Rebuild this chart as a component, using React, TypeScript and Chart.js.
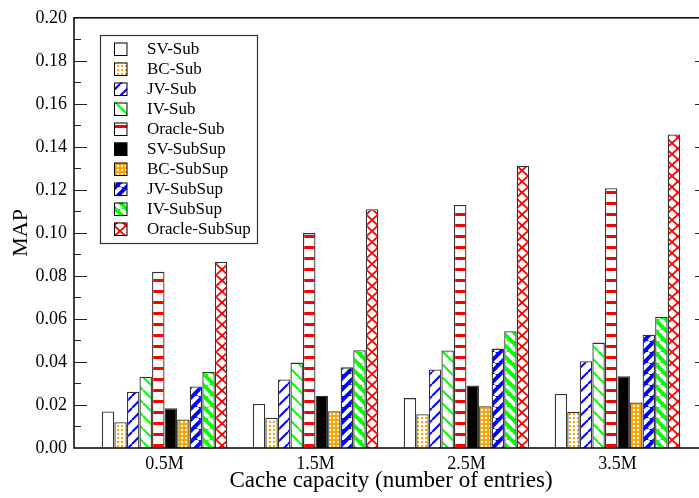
import React, { useEffect, useRef } from "react";
import { Chart, registerables } from "chart.js";

Chart.register(...registerables);

const categories = ["0.5M", "1.5M", "2.5M", "3.5M"];
const seriesLabels = [
  "SV-Sub",
  "BC-Sub",
  "JV-Sub",
  "IV-Sub",
  "Oracle-Sub",
  "SV-SubSup",
  "BC-SubSup",
  "JV-SubSup",
  "IV-SubSup",
  "Oracle-SubSup",
];
const svSub = [0.017, 0.0205, 0.0232, 0.0251];
const bcSub = [0.012, 0.0141, 0.0157, 0.0168];
const jvSub = [0.0262, 0.0319, 0.0365, 0.0403];
const ivSub = [0.0331, 0.0397, 0.0453, 0.049];
const oracleSub = [0.0819, 0.0999, 0.113, 0.1208];
const svSubSup = [0.0185, 0.0243, 0.0291, 0.0333];
const bcSubSup = [0.0133, 0.0171, 0.0194, 0.0212];
const jvSubSup = [0.0286, 0.0375, 0.0462, 0.0527];
const ivSubSup = [0.0354, 0.0455, 0.0543, 0.061];
const oracleSubSup = [0.0865, 0.111, 0.1312, 0.1458];
const seriesValues = [svSub, bcSub, jvSub, ivSub, oracleSub, svSubSup, bcSubSup, jvSubSup, ivSubSup, oracleSubSup];

const yMin = 0;
const yMax = 0.2;
const yStep = 0.02;

const ORANGE = "#FFA500";
const BLUE = "#0000FF";
const GREEN = "#00FF00";
const RED = "#FF0000";
const FONT = "'Liberation Serif', 'DejaVu Serif', serif";

function makePattern(w: number, h: number, draw: (ctx: CanvasRenderingContext2D) => void) {
  const c = document.createElement("canvas");
  c.width = w;
  c.height = h;
  const ctx = c.getContext("2d")!;
  draw(ctx);
  return ctx.createPattern(c, "repeat") as CanvasPattern;
}

function buildFills(): (string | CanvasPattern)[] {
  const dots = (bg: string, fg: string) =>
    makePattern(4, 4, (ctx) => {
      ctx.fillStyle = bg;
      ctx.fillRect(0, 0, 4, 4);
      ctx.fillStyle = fg;
      ctx.fillRect(1, 1, 2, 2);
    });
  const diag = (bg: string, fg: string, size: number, width: number, up: boolean) =>
    makePattern(size, size, (ctx) => {
      ctx.fillStyle = bg;
      ctx.fillRect(0, 0, size, size);
      ctx.strokeStyle = fg;
      ctx.lineWidth = width;
      ctx.beginPath();
      for (let k = -1; k <= 1; k++) {
        if (up) {
          ctx.moveTo(k * size, size);
          ctx.lineTo(k * size + size, 0);
        } else {
          ctx.moveTo(k * size, 0);
          ctx.lineTo(k * size + size, size);
        }
      }
      ctx.stroke();
    });
  const hstripes = makePattern(4, 11, (ctx) => {
    ctx.fillStyle = "#fff";
    ctx.fillRect(0, 0, 4, 11);
    ctx.fillStyle = RED;
    ctx.fillRect(0, 4, 4, 3);
  });
  const crosses = makePattern(12, 11, (ctx) => {
    ctx.fillStyle = "#fff";
    ctx.fillRect(0, 0, 12, 11);
    ctx.strokeStyle = RED;
    ctx.lineWidth = 1.8;
    ctx.beginPath();
    ctx.moveTo(0, 0);
    ctx.lineTo(12, 11);
    ctx.moveTo(12, 0);
    ctx.lineTo(0, 11);
    ctx.stroke();
    ctx.fillStyle = RED;
    ctx.fillRect(4.5, 4, 3, 3);
  });
  return [
    "#ffffff",
    dots("#ffffff", ORANGE),
    diag("#ffffff", BLUE, 12, 2, true),
    diag("#ffffff", GREEN, 13, 2, false),
    hstripes,
    "#000000",
    dots(ORANGE, "#ffffff"),
    diag(BLUE, "#ffffff", 11, 4, true),
    diag(GREEN, "#ffffff", 11, 4, false),
    crosses,
  ];
}

const framePlugin = {
  id: "frameAndLegend",
  afterDraw(chart: any) {
    const { ctx, chartArea } = chart;
    const y = chart.scales.y;
    ctx.save();
    ctx.strokeStyle = "#000";
    ctx.lineWidth = 1.5;
    ctx.strokeRect(chartArea.left, chartArea.top, chartArea.right - chartArea.left, chartArea.bottom - chartArea.top);
    ctx.lineWidth = 1.2;
    ctx.strokeStyle = "#222";
    const n = Math.round((yMax - yMin) / (yStep / 2));
    ctx.beginPath();
    for (let i = 1; i < n; i++) {
      const v = yMin + (i * yStep) / 2;
      const py = Math.round(y.getPixelForValue(v)) + 0.5;
      const len = i % 2 === 0 ? 13 : 7;
      ctx.moveTo(chartArea.left, py);
      ctx.lineTo(chartArea.left + len, py);
      ctx.moveTo(chartArea.right, py);
      ctx.lineTo(chartArea.right - len, py);
    }
    ctx.stroke();

    // legend
    const lx = 100, ly = 35, lw = 157, lh = 208;
    ctx.fillStyle = "#fff";
    ctx.fillRect(lx, ly, lw, lh);
    ctx.strokeStyle = "#333";
    ctx.lineWidth = 1.2;
    ctx.strokeRect(lx + 0.5, ly + 0.5, lw, lh);
    ctx.font = `17px ${FONT}`;
    ctx.textBaseline = "middle";
    chart.data.datasets.forEach((ds: any, i: number) => {
      const cy = 49 + i * 20;
      ctx.fillStyle = ds.backgroundColor;
      ctx.fillRect(114, cy - 6.5, 13, 13);
      ctx.strokeStyle = "#000";
      ctx.lineWidth = 1;
      ctx.strokeRect(114.5, cy - 6, 12.5, 12.5);
      ctx.fillStyle = "#000";
      ctx.fillText(ds.label, 147, cy + 1);
    });
    ctx.restore();
  },
};

export default function App() {
  const ref = useRef<HTMLCanvasElement>(null);
  useEffect(() => {
    if (!ref.current) return;
    const fills = buildFills();
    const chart = new Chart(ref.current, {
      type: "bar",
      data: {
        datasets: seriesLabels.map((label, s) => ({
          label,
          data: seriesValues[s].map((v, i) => ({ x: i, y: v })),
          backgroundColor: fills[s] as any,
          borderColor: "#333",
          borderWidth: 1.3,
          borderSkipped: "bottom",
        })),
      },
      options: {
        animation: false,
        responsive: false,
        devicePixelRatio: 1,
        layout: { padding: { top: 15, right: 4, left: 0, bottom: 0 } },
        datasets: { bar: { categoryPercentage: 0.832, barPercentage: 0.99 } },
        plugins: { legend: { display: false }, tooltip: { enabled: false } },
        scales: {
          x: {
            type: "linear",
            min: -0.6,
            max: 3.6,
            offset: false,
            grid: { display: false, drawTicks: false, offset: false },
            border: { display: false },
            afterBuildTicks: (scale: any) => {
              scale.ticks = categories.map((_, i) => ({ value: i }));
            },
            afterFit: (scale: any) => {
              scale.height = 50;
            },
            ticks: {
              autoSkip: false,
              maxRotation: 0,
              padding: 5,
              color: "#000",
              font: { family: FONT, size: 18 },
              callback: (v: any) => categories[Math.round(v)] ?? "",
            },
            title: {
              display: true,
              text: "Cache capacity (number of entries)",
              color: "#000",
              font: { family: FONT, size: 23 },
              padding: { top: 0, bottom: 3 },
            },
          },
          y: {
            min: yMin,
            max: yMax,
            grid: { display: false, drawTicks: false },
            border: { display: false },
            afterFit: (scale: any) => {
              scale.width = 74;
            },
            ticks: {
              stepSize: yStep,
              padding: 7,
              color: "#000",
              font: { family: FONT, size: 18 },
              callback: (v: any) => Number(v).toFixed(2),
            },
            title: {
              display: true,
              text: "MAP",
              color: "#000",
              font: { family: FONT, size: 22 },
              padding: { top: 8, bottom: 0 },
            },
          },
        },
      },
      plugins: [framePlugin],
    });
    return () => chart.destroy();
  }, []);
  return (
    <div style={{ position: "absolute", left: 0, top: 0, width: 699, height: 498, overflow: "hidden", background: "#fff" }}>
      <canvas ref={ref} width={712} height={498} style={{ display: "block" }} />
    </div>
  );
}
